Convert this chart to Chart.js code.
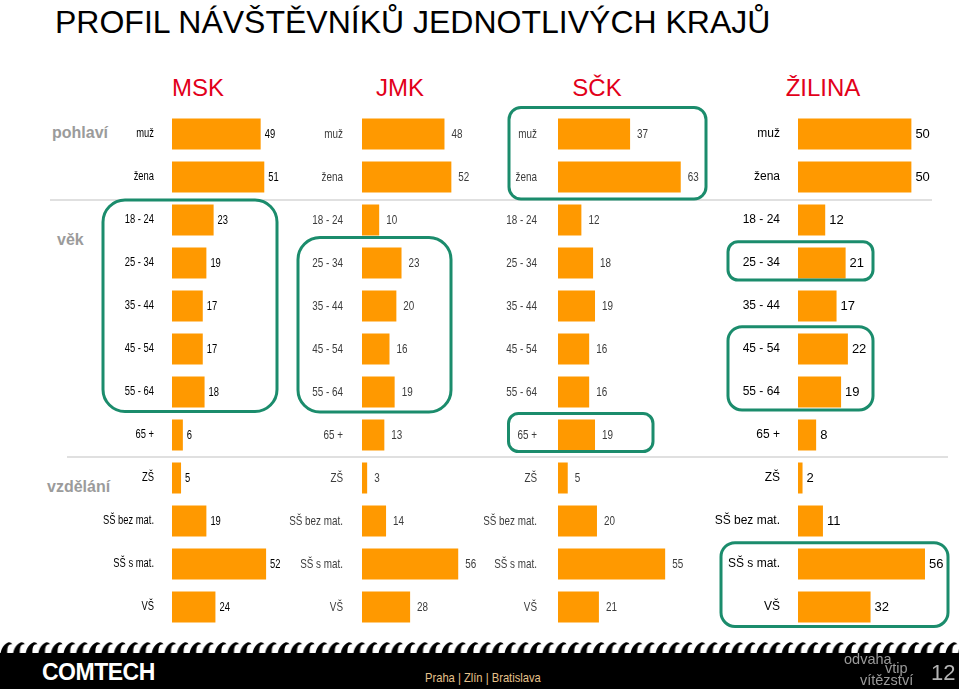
<!DOCTYPE html>
<html>
<head>
<meta charset="utf-8">
<script src="https://cdn.jsdelivr.net/npm/chart.js@4.4.1/dist/chart.umd.min.js"></script>
<style>
html,body{margin:0;padding:0;background:#fff;}
body{width:959px;height:689px;position:relative;overflow:hidden;font-family:"Liberation Sans",Arial,sans-serif;}
.abs{position:absolute;}
#title{left:55px;top:6px;font-size:32px;line-height:32px;white-space:nowrap;color:#000;}
.colhead{width:200px;text-align:center;font-size:24px;line-height:24px;color:#E2001A;top:76px;white-space:nowrap;}
.rowhead{font-weight:bold;font-size:16px;line-height:16px;color:#9b9b9b;white-space:nowrap;}
.sep{height:0;border-top:2px solid #e0e0e0;}
canvas.col{position:absolute;top:100px;}
#band{left:0;top:653px;width:959px;height:36px;background:#000;}
#logo{left:42px;top:661px;font-weight:bold;font-size:23px;line-height:23px;color:#fff;letter-spacing:-0.5px;white-space:nowrap;}
#cities{left:425px;top:671px;font-size:13px;line-height:13px;color:#E6C28C;white-space:nowrap;transform:scaleX(0.86);transform-origin:0 0;}
.motto{font-size:14.5px;line-height:14.5px;color:#9a9a9a;white-space:nowrap;}
#page{left:931px;top:662px;font-size:22px;line-height:22px;color:#b5b5b5;}
</style>
</head>
<body>
<div id="title" class="abs">PROFIL NÁVŠTĚVNÍKŮ JEDNOTLIVÝCH KRAJŮ</div>
<div id="heads"></div>
<div class="abs rowhead" style="left:52px;top:125px">pohlaví</div>
<div class="abs rowhead" style="left:57px;top:232px">věk</div>
<div class="abs rowhead" style="left:47px;top:479px">vzdělání</div>
<div class="abs sep" style="left:50px;top:199px;width:882px"></div>
<div class="abs sep" style="left:67px;top:456px;width:881px"></div>

<canvas class="col" id="c0" width="191" height="540" style="left:95px"></canvas>
<canvas class="col" id="c1" width="198" height="540" style="left:286px"></canvas>
<canvas class="col" id="c2" width="225" height="540" style="left:484px"></canvas>
<canvas class="col" id="c3" width="250" height="540" style="left:709px"></canvas>

<svg class="abs" style="left:0;top:638px" width="959" height="20">
  <defs>
    <pattern id="fl" width="12.6" height="20" patternUnits="userSpaceOnUse">
      <path d="M0 20 C0.5 12 3 6.5 8 4.5 C10 4 11.5 5 12.2 6.5 C10.6 6 9 6.8 8 8.5 C7 10.5 7 15 7.5 20 Z" fill="#000"/>
    </pattern>
  </defs>
  <rect width="959" height="20" fill="url(#fl)"/>
</svg>
<div id="band" class="abs"></div>
<div id="logo" class="abs">COMTECH</div>
<div id="cities" class="abs">Praha | Zlín | Bratislava</div>
<div class="abs motto" style="left:844px;top:652px">odvaha</div>
<div class="abs motto" style="left:885px;top:661px">vtip</div>
<div class="abs motto" style="left:860px;top:673px">vítězství</div>
<div id="page" class="abs">12</div>

<script>
// ---- data ----
const categories = ["muž","žena","18 - 24","25 - 34","35 - 44","45 - 54","55 - 64","65 +","ZŠ","SŠ bez mat.","SŠ s mat.","VŠ"];
const regions = ["MSK","JMK","SČK","ŽILINA"];
const mskValues = [49,51,23,19,17,17,18,6,5,19,52,24];
const jmkValues = [48,52,10,23,20,16,19,13,3,14,56,28];
const sckValues = [37,63,12,18,19,16,16,19,5,20,55,21];
const zilinaValues = [50,50,12,21,17,22,19,8,2,11,56,32];

// ---- layout / style ----
const headCenters = [198,400,597,823];
const fam = '"Liberation Sans",Arial,sans-serif';
const columns = [
  {id:'c0', values:mskValues, left:95, axisWidth:77, max:63, tickPad:18, sx:0.75,
   labelFont:'12.5px '+fam, labelColor:'#000', valueFont:'12.5px '+fam, valueColor:'#000', gap:4,
   boxes:[{from:2,to:6,x0:103,x1:277,padTop:20,padBottom:19.5,r:22}]},
  {id:'c1', values:jmkValues, left:286, axisWidth:76, max:71, tickPad:19, sx:0.76,
   labelFont:'13px '+fam, labelColor:'#3c3c3c', valueFont:'13px '+fam, valueColor:'#3c3c3c', gap:7,
   boxes:[{from:3,to:6,x0:298,x1:451,padTop:25.5,padBottom:20,r:22}]},
  {id:'c2', values:sckValues, left:484, axisWidth:74, max:77.5, tickPad:21, sx:0.76,
   labelFont:'13px '+fam, labelColor:'#3c3c3c', valueFont:'13px '+fam, valueColor:'#3c3c3c', gap:7,
   boxes:[{from:0,to:1,x0:509,x1:706,padTop:26.5,padBottom:22,r:12},
          {from:7,to:7,x0:508.5,x1:653,padTop:21.5,padBottom:16.5,r:10}]},
  {id:'c3', values:zilinaValues, left:709, axisWidth:89, max:71, tickPad:18, sx:1,
   labelFont:'12px '+fam, labelColor:'#000', valueFont:'13px '+fam, valueColor:'#000', gap:4,
   boxes:[{from:3,to:3,x0:728,x1:873,padTop:21.3,padBottom:17,r:10},
          {from:5,to:6,x0:728,x1:873,padTop:22.3,padBottom:18,r:14},
          {from:10,to:11,x0:721,x1:948,padTop:21.3,padBottom:19.5,r:14}]}
];

// column headers as real text
const heads = document.getElementById('heads');
regions.forEach((r,i)=>{
  const d = document.createElement('div');
  d.className = 'abs colhead';
  d.style.left = (headCenters[i]-100)+'px';
  d.textContent = r;
  heads.appendChild(d);
});

function rrect(ctx,x,y,w,h,r){
  ctx.beginPath();
  ctx.moveTo(x+r,y);
  ctx.arcTo(x+w,y,x+w,y+h,r);
  ctx.arcTo(x+w,y+h,x,y+h,r);
  ctx.arcTo(x,y+h,x,y,r);
  ctx.arcTo(x,y,x+w,y,r);
  ctx.closePath();
}

columns.forEach(col=>{
  // category labels, placed by the category scale, horizontally condensed like the source
  const categoryLabels = {
    id:'categoryLabels',
    afterDraw(chart){
      const ctx = chart.ctx;
      const y = chart.scales.y;
      ctx.save();
      ctx.font = col.labelFont;
      ctx.fillStyle = col.labelColor;
      ctx.textAlign = 'right';
      ctx.textBaseline = 'middle';
      chart.data.labels.forEach((lab,i)=>{
        ctx.save();
        ctx.translate(chart.chartArea.left - col.tickPad, y.getPixelForValue(i));
        ctx.scale(col.sx,1);
        ctx.fillText(lab,0,0);
        ctx.restore();
      });
      ctx.restore();
    }
  };
  const valueLabels = {
    id:'valueLabels',
    afterDatasetsDraw(chart){
      const ctx = chart.ctx;
      const meta = chart.getDatasetMeta(0);
      const data = chart.data.datasets[0].data;
      ctx.save();
      ctx.font = col.valueFont;
      ctx.fillStyle = col.valueColor;
      ctx.textAlign = 'left';
      ctx.textBaseline = 'middle';
      meta.data.forEach((bar,i)=>{
        ctx.save();
        ctx.translate(bar.x + col.gap, bar.y + 0.5);
        ctx.scale(col.sx,1);
        ctx.fillText(String(data[i]),0,0);
        ctx.restore();
      });
      ctx.restore();
    }
  };
  const highlights = {
    id:'highlights',
    afterDraw(chart){
      const ctx = chart.ctx;
      const y = chart.scales.y;
      ctx.save();
      ctx.strokeStyle = '#1B8C6C';
      ctx.lineWidth = 3;
      col.boxes.forEach(b=>{
        const top = y.getPixelForValue(b.from) - b.padTop;
        const bottom = y.getPixelForValue(b.to) + b.padBottom;
        const x0 = b.x0 - col.left, x1 = b.x1 - col.left;
        rrect(ctx, x0, top, x1-x0, bottom-top, b.r);
        ctx.stroke();
      });
      ctx.restore();
    }
  };
  new Chart(document.getElementById(col.id), {
    type:'bar',
    data:{
      labels: categories,
      datasets:[{
        data: col.values,
        backgroundColor:'#FF9900',
        borderWidth:0,
        categoryPercentage:1,
        barPercentage:0.72
      }]
    },
    options:{
      indexAxis:'y',
      responsive:false,
      devicePixelRatio:1,
      animation:false,
      events:[],
      layout:{padding:{top:12.5,bottom:11.5,left:0,right:0}},
      plugins:{legend:{display:false},tooltip:{enabled:false}},
      scales:{
        x:{type:'linear',min:0,max:col.max,display:false},
        y:{
          type:'category',
          grid:{display:false,drawTicks:false},
          border:{display:false},
          ticks:{display:false,autoSkip:false},
          afterFit(scale){ scale.width = col.axisWidth; }
        }
      }
    },
    plugins:[valueLabels, categoryLabels, highlights]
  });
});
</script>
</body>
</html>
